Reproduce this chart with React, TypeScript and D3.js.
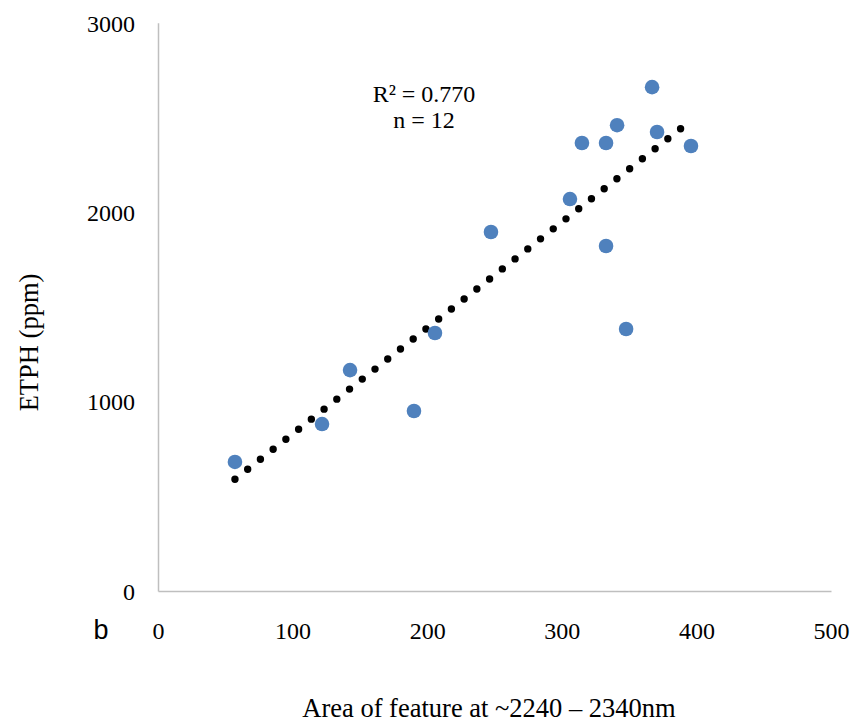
import React from "react";
import * as d3 from "d3";

// Measured area of the absorption feature and the corresponding ETPH concentration
const areaValues = [56.8, 121.5, 142.3, 189.8, 205.4, 247, 305.7, 314.6, 332.5, 332.5, 340.7, 347.4, 366.7, 370.4, 395.6];
const etphValues = [684, 884, 1169, 953, 1365, 1898, 2072, 2368, 2368, 1824, 2462, 1386, 2663, 2426, 2352];

const xTicks = [0, 100, 200, 300, 400, 500];
const yTicks = [0, 1000, 2000, 3000];

const statLines = ["R² = 0.770", "n = 12"];
const panelLetter = "b";
const xTitle = "Area of feature at ~2240 – 2340nm";
const yTitle = "ETPH (ppm)";

const W = 854;
const H = 723;
const serif = "'Liberation Serif', 'Times New Roman', serif";
const sans = "'Liberation Sans', Arial, sans-serif";

export default function App() {
  const x = d3.scaleLinear().domain([0, 500]).range([158.5, 831.5]);
  const y = d3.scaleLinear().domain([0, 3000]).range([591.5, 23.3]);

  // Ordinary least-squares fit for the dotted trendline
  const mx = d3.mean(areaValues) as number;
  const my = d3.mean(etphValues) as number;
  const sxy = d3.sum(areaValues.map((v, i) => (v - mx) * (etphValues[i] - my)));
  const sxx = d3.sum(areaValues.map((v) => (v - mx) * (v - mx)));
  const slope = sxy / sxx;
  const intercept = my - slope * mx;
  const [xMin, xMax] = d3.extent(areaValues) as [number, number];
  const trend = d3
    .line<number>()
    .x((v) => x(v))
    .y((v) => y(intercept + slope * v))([xMin, xMax]) as string;

  const pts = areaValues.map((v, i) => ({ a: v, e: etphValues[i] }));

  return (
    <svg
      width={W}
      height={H}
      viewBox={`0 0 ${W} ${H}`}
      style={{ position: "absolute", left: 0, top: 0, background: "#ffffff" }}
    >
      {/* axes */}
      <line x1={x(0)} x2={x(0)} y1={y(3000)} y2={y(0)} stroke="#bfbfbf" strokeWidth={1.5} />
      <line x1={x(0)} x2={x(500)} y1={y(0)} y2={y(0)} stroke="#bfbfbf" strokeWidth={1.5} />

      {/* y tick labels */}
      {yTicks.map((t) => (
        <text key={`y${t}`} x={135} y={y(t) + 8.3} textAnchor="end" fontFamily={serif} fontSize={24} fill="#000">
          {t}
        </text>
      ))}

      {/* x tick labels */}
      {xTicks.map((t) => (
        <text key={`x${t}`} x={x(t)} y={639} textAnchor="middle" fontFamily={serif} fontSize={24} fill="#000">
          {t}
        </text>
      ))}

      <text x={93.5} y={639.3} fontFamily={sans} fontSize={27} fill="#000">
        {panelLetter}
      </text>

      {/* trendline */}
      <path
        d={trend}
        fill="none"
        stroke="#000"
        strokeWidth={7.4}
        strokeLinecap="round"
        strokeDasharray="0 16.2"
      />

      {/* data points */}
      {pts.map((p, i) => (
        <circle key={i} cx={x(p.a)} cy={y(p.e)} r={7.3} fill="#4f81bd" />
      ))}

      {/* fit statistics */}
      {statLines.map((s, i) => (
        <text key={s} x={424} y={102 + i * 26} textAnchor="middle" fontFamily={serif} fontSize={24} fill="#000">
          {s}
        </text>
      ))}

      {/* axis titles */}
      <text x={489} y={717} textAnchor="middle" fontFamily={serif} fontSize={26.5} fill="#000">
        {xTitle}
      </text>
      <text
        transform={`translate(38, 342.5) rotate(-90)`}
        textAnchor="middle"
        fontFamily={serif}
        fontSize={26.5}
        fill="#000"
      >
        {yTitle}
      </text>
    </svg>
  );
}
